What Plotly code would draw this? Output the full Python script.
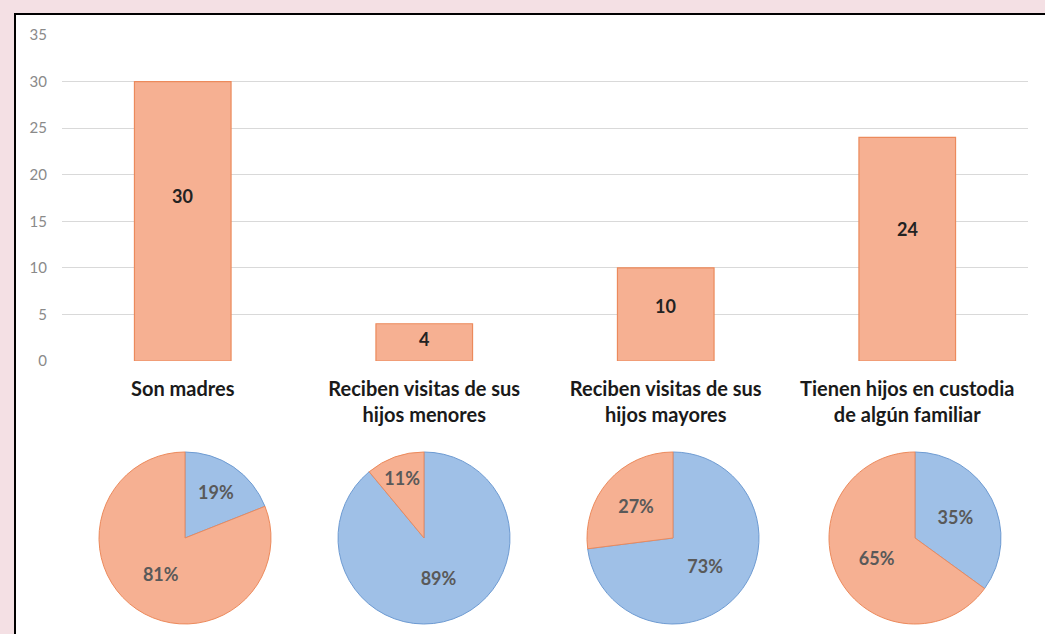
import plotly.graph_objects as go

categories = ["Son madres", "Reciben visitas de sus hijos menores",
              "Reciben visitas de sus hijos mayores", "Tienen hijos en custodia de algún familiar"]
category_ticks = ["<b>Son madres</b>", "<b>Reciben visitas de sus<br>hijos menores</b>",
                  "<b>Reciben visitas de sus<br>hijos mayores</b>", "<b>Tienen hijos en custodia<br>de algún familiar</b>"]
counts = [30, 4, 10, 24]
pct_no = [19, 89, 73, 35]   # blue
pct_si = [81, 11, 27, 65]   # orange
y_ticks = [0, 5, 10, 15, 20, 25, 30, 35]

W, H = 1045, 634
def px(x): return x / W
def py(y): return 1 - y / H

ORANGE = "#f6b092"
ORANGE_EDGE = "#ec8a5c"
BLUE = "#9fc0e7"
BLUE_EDGE = "#6e9bd2"
FONT = "Lato"

fig = go.Figure()
fig.add_trace(go.Bar(x=categories, y=counts, width=0.4,
                     marker=dict(color=ORANGE, line=dict(color=ORANGE_EDGE, width=1.2)),
                     hoverinfo="skip", showlegend=False))

for c, v in zip(categories, counts):
    fig.add_annotation(x=c, y=v * 0.59, text=f"<b>{v}</b>", showarrow=False,
                       font=dict(family=FONT, size=18, color="#222222"),
                       xref="x", yref="y")

pie_centers = [185, 424, 673, 915]
r = 86
cy = 538
for cx, no, si in zip(pie_centers, pct_no, pct_si):
    fig.add_trace(go.Pie(values=[no, si], labels=["No", "Sí"], sort=False,
                         direction="clockwise", rotation=0,
                         marker=dict(colors=[BLUE, ORANGE], line=dict(color=[BLUE_EDGE, ORANGE_EDGE], width=1)),
                         textinfo="text", text=[f"<b>{no}%</b>", f"<b>{si}%</b>"],
                         textposition="inside", insidetextorientation="horizontal",
                         textfont=dict(family=FONT, size=18, color="#595959"),
                         domain=dict(x=[px(cx - r), px(cx + r)], y=[py(cy + r), py(cy - r)]),
                         showlegend=False, hoverinfo="skip"))

fig.update_layout(
    width=W, height=H,
    margin=dict(l=0, r=0, t=0, b=0, autoexpand=False),
    paper_bgcolor="#f4e0e4",
    plot_bgcolor="rgba(0,0,0,0)",
    font=dict(family=FONT),
    showlegend=False,
    xaxis=dict(domain=[px(62), px(1028)], showline=False, showgrid=False, zeroline=False,
               automargin=False,
               tickmode="array", tickvals=categories, ticktext=category_ticks,
               tickfont=dict(family=FONT, size=20, color="#1a1a1a"), ticklabelstandoff=14),
    yaxis=dict(domain=[py(361), py(35)], range=[0, 35], tickvals=y_ticks, automargin=False,
               showgrid=True, gridcolor="#d9d9d9", gridwidth=1, zeroline=False, showline=False,
               tickfont=dict(family=FONT, size=15, color="#8a8a8a"), ticklabelstandoff=14),
    shapes=[dict(type="rect", xref="paper", yref="paper", x0=px(15), x1=1.05, y0=-0.05, y1=py(14),
                 fillcolor="white", line=dict(color="black", width=2), layer="below")],
)

fig.write_html("out.html", config={"displayModeBar": False},
               post_script="document.body.style.margin='0';document.body.style.overflow='hidden';")
